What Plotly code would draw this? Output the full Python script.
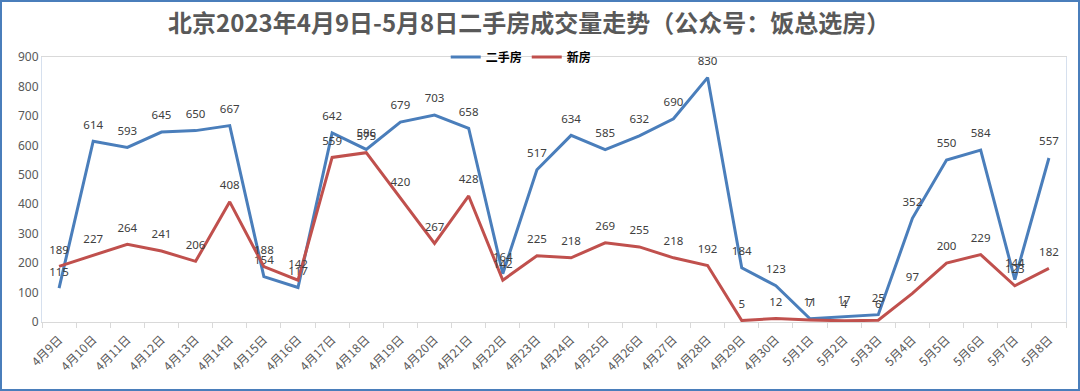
import plotly.graph_objects as go

dates = ["4月9日", "4月10日", "4月11日", "4月12日", "4月13日", "4月14日", "4月15日", "4月16日",
         "4月17日", "4月18日", "4月19日", "4月20日", "4月21日", "4月22日", "4月23日", "4月24日",
         "4月25日", "4月26日", "4月27日", "4月28日", "4月29日", "4月30日", "5月1日", "5月2日",
         "5月3日", "5月4日", "5月5日", "5月6日", "5月7日", "5月8日"]
second_hand = [115, 614, 593, 645, 650, 667, 154, 117, 642, 586, 679, 703, 658, 164, 517,
               634, 585, 632, 690, 830, 184, 123, 11, 17, 25, 352, 550, 584, 144, 557]
new_home = [189, 227, 264, 241, 206, 408, 188, 142, 559, 575, 420, 267, 428, 142, 225,
            218, 269, 255, 218, 192, 5, 12, 7, 4, 6, 97, 200, 229, 123, 182]

W, H = 1080, 391
ML, MR, MT, MB = 42, 14, 57, 69
PW, PH = W - ML - MR, H - MT - MB

label_font = dict(family="Noto Sans, DejaVu Sans", size=11.5, color="#404040")

fig = go.Figure()
fig.add_trace(go.Scatter(
    x=dates, y=second_hand, name="<b>二手房</b>", mode="lines+markers+text",
    line=dict(color="#4a7ebb", width=3),
    marker=dict(size=14, color="rgba(0,0,0,0)"),
    text=[str(v) for v in second_hand], textposition="top center",
    textfont=label_font, cliponaxis=False))
fig.add_trace(go.Scatter(
    x=dates, y=new_home, name="<b>新房</b>", mode="lines+markers+text",
    line=dict(color="#c0504d", width=3),
    marker=dict(size=14, color="rgba(0,0,0,0)"),
    text=[str(v) for v in new_home], textposition="top center",
    textfont=label_font, cliponaxis=False))

fig.update_layout(
    width=W, height=H,
    margin=dict(l=ML, r=MR, t=MT, b=MB, autoexpand=False),
    paper_bgcolor="white", plot_bgcolor="white",
    title=dict(text="<b>北京2023年4月9日-5月8日二手房成交量走势（公众号：饭总选房）</b>",
               x=0.49, xanchor="center", y=0.94, yanchor="middle",
               font=dict(family="Noto Sans CJK SC", size=24, color="#595959")),
    legend=dict(orientation="h", x=0.468, xanchor="center", y=1.0, yanchor="middle",
                font=dict(family="Noto Sans CJK SC", size=12, color="#000000"),
                bgcolor="rgba(255,255,255,0)", itemwidth=30, tracegroupgap=0),
    showlegend=True,
    xaxis=dict(type="category", range=[-0.5, 29.5], tickson="boundaries",
               ticks="outside", ticklen=5, tickcolor="#d9d9d9", automargin=False,
               showline=True, linecolor="#d9d9d9", linewidth=1, mirror=True,
               showgrid=False, tickangle=-45, ticklabelstandoff=5,
               tickfont=dict(family="Noto Sans CJK SC", size=12, color="#595959")),
    yaxis=dict(range=[0, 900], dtick=100, showgrid=False, automargin=False,
               showline=True, linecolor="#d6e0ee", linewidth=1, mirror=True,
               ticks="", zeroline=False,
               tickfont=dict(family="Noto Sans, DejaVu Sans", size=12, color="#595959")),
)

# outer blue frame of the picture
fig.add_shape(type="rect", xref="paper", yref="paper",
              x0=(1 - ML) / PW, x1=(W - 1 - ML) / PW,
              y0=-(H - 1 - MT - PH) / PH, y1=1 + (MT - 1) / PH,
              line=dict(color="#4a7ebb", width=2), fillcolor="rgba(0,0,0,0)", layer="above")

fig.write_html("out.html", config={"displayModeBar": False},
               post_script="document.body.style.margin='0';document.body.style.overflow='hidden';")
